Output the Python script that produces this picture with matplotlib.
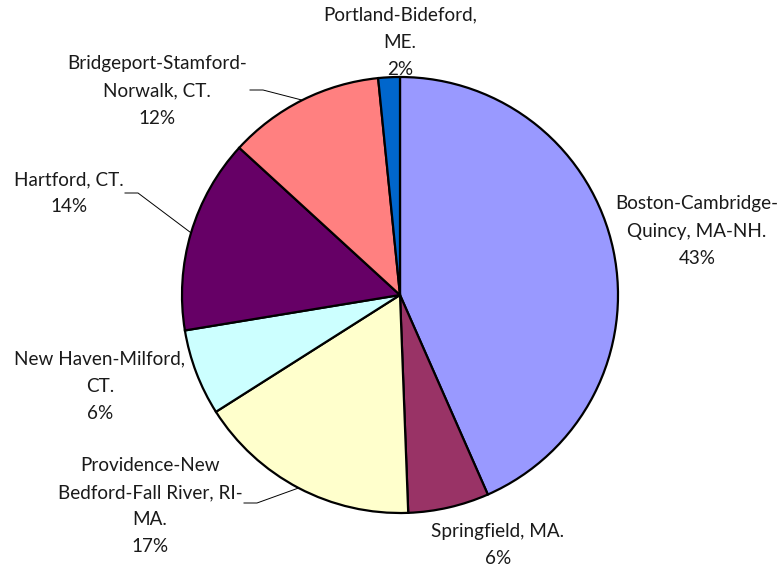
import matplotlib
matplotlib.use("Agg")
import matplotlib.pyplot as plt
import numpy as np

plt.rcParams["font.family"] = ["Lato", "DejaVu Sans"]

# ---- data (clockwise from 12 o'clock) --------------------------------------
areas = ["Boston-Cambridge-\nQuincy, MA-NH.", "Springfield, MA.",
         "Providence-New\nBedford-Fall River, RI-\nMA.", "New Haven-Milford,\nCT.",
         "Hartford, CT.", "Bridgeport-Stamford-\nNorwalk, CT.", "Portland-Bideford,\nME."]
shares = [43.4, 6.0, 16.6, 6.4, 14.4, 11.6, 1.6]
colors = ["#9999FF", "#993366", "#FFFFCC", "#CCFFFF", "#660066", "#FF8080", "#0066CC"]

# label block centres in pixel coords (x, y from top); leader flag for outside labels
label_pos = [(697, 231), (498, 545), (150, 506), (100, 386), (69, 193), (157, 91), (400, 42)]
leader = [None, None, (257, 503), None, (138, 193), (263, 90), None]

W, H = 779, 571
fig = plt.figure(figsize=(W / 100, H / 100), dpi=100)
ax = fig.add_axes([0, 0, 1, 1])

cx, cy, r = 400, H - 295, 218
wedges, _ = ax.pie(shares, colors=colors, startangle=90, counterclock=False,
                   center=(cx, cy), radius=r, frame=True,
                   wedgeprops=dict(edgecolor="black", linewidth=1.6))
ax.set_xlim(0, W); ax.set_ylim(0, H); ax.set_aspect("equal"); ax.axis("off")

total = sum(shares)
for w, name, v, (lx, ly), ld in zip(wedges, areas, shares, label_pos, leader):
    ax.text(lx, H - ly, f"{name}\n{v / total * 100:.0f}%", ha="center", va="center",
            fontsize=13.6, linespacing=1.72, color="#1a1a1a")
    if ld is not None:
        mid = np.deg2rad((w.theta1 + w.theta2) / 2)
        ex, ey = cx + r * np.cos(mid), cy + r * np.sin(mid)
        x0 = ld[0] - 13 if ex > ld[0] else ld[0] + 13
        ax.plot([x0, ld[0], ex], [H - ld[1], H - ld[1], ey], color="black", lw=0.7)

fig.savefig("out.png", dpi=100)
